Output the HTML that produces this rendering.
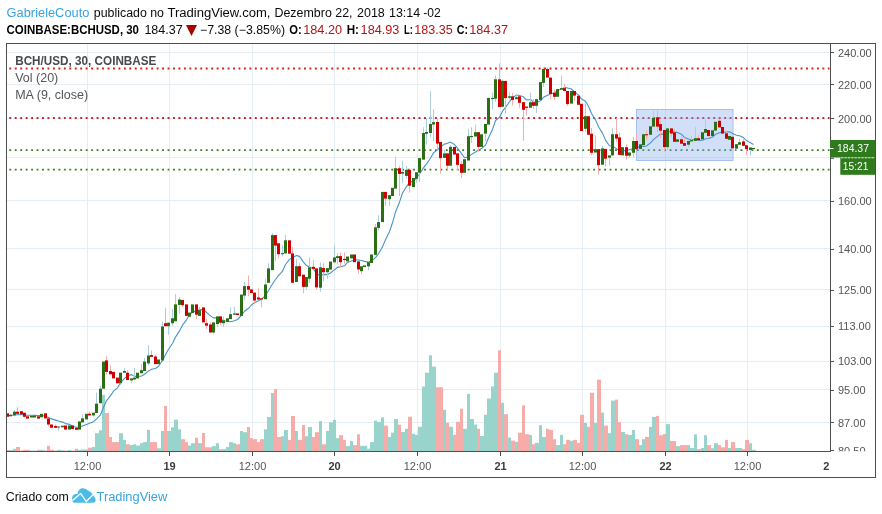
<!DOCTYPE html><html><head><meta charset="utf-8"><title>BCH/USD</title><style>html,body{margin:0;padding:0;background:#fff}svg{display:block;will-change:transform}text{font-family:"Liberation Sans",sans-serif}</style></head><body>
<svg width="882" height="514" viewBox="0 0 882 514">
<rect width="882" height="514" fill="#fff"/>
<defs><clipPath id="plot"><rect x="6.5" y="43.5" width="824" height="408"/></clipPath><clipPath id="axr"><rect x="831" y="44" width="44" height="407.3"/></clipPath><clipPath id="axb"><rect x="6.5" y="452" width="823.6" height="25"/></clipPath></defs>
<g stroke="#e6eef5" stroke-width="1" shape-rendering="crispEdges">
<line x1="7" x2="830" y1="52.5" y2="52.5"/>
<line x1="7" x2="830" y1="84.5" y2="84.5"/>
<line x1="7" x2="830" y1="118.5" y2="118.5"/>
<line x1="7" x2="830" y1="157.5" y2="157.5"/>
<line x1="7" x2="830" y1="200.5" y2="200.5"/>
<line x1="7" x2="830" y1="248.5" y2="248.5"/>
<line x1="7" x2="830" y1="289.5" y2="289.5"/>
<line x1="7" x2="830" y1="326.5" y2="326.5"/>
<line x1="7" x2="830" y1="361.5" y2="361.5"/>
<line x1="7" x2="830" y1="389.5" y2="389.5"/>
<line x1="7" x2="830" y1="422.5" y2="422.5"/>
<line x1="87.5" x2="87.5" y1="44" y2="451"/>
<line x1="169.5" x2="169.5" y1="44" y2="451"/>
<line x1="252.5" x2="252.5" y1="44" y2="451"/>
<line x1="334.5" x2="334.5" y1="44" y2="451"/>
<line x1="417.5" x2="417.5" y1="44" y2="451"/>
<line x1="500.5" x2="500.5" y1="44" y2="451"/>
<line x1="582.5" x2="582.5" y1="44" y2="451"/>
<line x1="665.5" x2="665.5" y1="44" y2="451"/>
<line x1="747.5" x2="747.5" y1="44" y2="451"/>
</g>
<g clip-path="url(#plot)">
<rect x="6" y="450.0" width="3" height="1.0" fill="#f5a5a1" fill-opacity="0.92"/>
<rect x="9" y="450.0" width="4" height="1.0" fill="#8fd0c7" fill-opacity="0.92"/>
<rect x="13" y="448.8" width="3" height="2.2" fill="#8fd0c7" fill-opacity="0.92"/>
<rect x="16" y="447.0" width="4" height="4.0" fill="#f5a5a1" fill-opacity="0.92"/>
<rect x="20" y="450.5" width="3" height="0.5" fill="#f5a5a1" fill-opacity="0.92"/>
<rect x="23" y="449.8" width="3" height="1.2" fill="#f5a5a1" fill-opacity="0.92"/>
<rect x="26" y="449.8" width="4" height="1.2" fill="#f5a5a1" fill-opacity="0.92"/>
<rect x="30" y="450.6" width="3" height="0.4" fill="#8fd0c7" fill-opacity="0.92"/>
<rect x="33" y="450.6" width="4" height="0.4" fill="#8fd0c7" fill-opacity="0.92"/>
<rect x="37" y="449.8" width="3" height="1.2" fill="#f5a5a1" fill-opacity="0.92"/>
<rect x="40" y="449.8" width="4" height="1.2" fill="#8fd0c7" fill-opacity="0.92"/>
<rect x="44" y="450.5" width="3" height="0.5" fill="#f5a5a1" fill-opacity="0.92"/>
<rect x="47" y="445.8" width="3" height="5.2" fill="#f5a5a1" fill-opacity="0.92"/>
<rect x="50" y="449.8" width="4" height="1.2" fill="#f5a5a1" fill-opacity="0.92"/>
<rect x="54" y="450.6" width="3" height="0.4" fill="#f5a5a1" fill-opacity="0.92"/>
<rect x="57" y="449.8" width="4" height="1.2" fill="#8fd0c7" fill-opacity="0.92"/>
<rect x="61" y="450.3" width="3" height="0.7" fill="#8fd0c7" fill-opacity="0.92"/>
<rect x="64" y="450.5" width="4" height="0.5" fill="#f5a5a1" fill-opacity="0.92"/>
<rect x="68" y="450.0" width="3" height="1.0" fill="#8fd0c7" fill-opacity="0.92"/>
<rect x="71" y="450.6" width="4" height="0.4" fill="#f5a5a1" fill-opacity="0.92"/>
<rect x="75" y="448.8" width="3" height="2.2" fill="#f5a5a1" fill-opacity="0.92"/>
<rect x="78" y="450.0" width="3" height="1.0" fill="#8fd0c7" fill-opacity="0.92"/>
<rect x="81" y="449.5" width="4" height="1.5" fill="#8fd0c7" fill-opacity="0.92"/>
<rect x="85" y="449.5" width="3" height="1.5" fill="#8fd0c7" fill-opacity="0.92"/>
<rect x="88" y="447.7" width="4" height="3.3" fill="#f5a5a1" fill-opacity="0.92"/>
<rect x="92" y="447.0" width="3" height="4.0" fill="#8fd0c7" fill-opacity="0.92"/>
<rect x="95" y="433.2" width="4" height="17.8" fill="#8fd0c7" fill-opacity="0.92"/>
<rect x="99" y="430.3" width="3" height="20.7" fill="#8fd0c7" fill-opacity="0.92"/>
<rect x="102" y="394.8" width="3" height="56.2" fill="#8fd0c7" fill-opacity="0.92"/>
<rect x="105" y="413.0" width="4" height="38.0" fill="#f5a5a1" fill-opacity="0.92"/>
<rect x="109" y="437.0" width="3" height="14.0" fill="#f5a5a1" fill-opacity="0.92"/>
<rect x="112" y="442.1" width="4" height="8.9" fill="#f5a5a1" fill-opacity="0.92"/>
<rect x="116" y="442.1" width="3" height="8.9" fill="#f5a5a1" fill-opacity="0.92"/>
<rect x="119" y="433.2" width="4" height="17.8" fill="#8fd0c7" fill-opacity="0.92"/>
<rect x="123" y="439.9" width="3" height="11.1" fill="#8fd0c7" fill-opacity="0.92"/>
<rect x="126" y="444.3" width="4" height="6.7" fill="#f5a5a1" fill-opacity="0.92"/>
<rect x="130" y="445.1" width="3" height="5.9" fill="#8fd0c7" fill-opacity="0.92"/>
<rect x="133" y="444.3" width="3" height="6.7" fill="#8fd0c7" fill-opacity="0.92"/>
<rect x="136" y="445.5" width="4" height="5.5" fill="#8fd0c7" fill-opacity="0.92"/>
<rect x="140" y="443.2" width="3" height="7.8" fill="#8fd0c7" fill-opacity="0.92"/>
<rect x="143" y="442.1" width="4" height="8.9" fill="#8fd0c7" fill-opacity="0.92"/>
<rect x="147" y="429.8" width="3" height="21.2" fill="#8fd0c7" fill-opacity="0.92"/>
<rect x="150" y="442.1" width="4" height="8.9" fill="#f5a5a1" fill-opacity="0.92"/>
<rect x="154" y="442.1" width="3" height="8.9" fill="#f5a5a1" fill-opacity="0.92"/>
<rect x="157" y="448.3" width="4" height="2.7" fill="#8fd0c7" fill-opacity="0.92"/>
<rect x="161" y="431.0" width="3" height="20.0" fill="#8fd0c7" fill-opacity="0.92"/>
<rect x="164" y="405.9" width="3" height="45.1" fill="#f5a5a1" fill-opacity="0.92"/>
<rect x="167" y="431.0" width="4" height="20.0" fill="#8fd0c7" fill-opacity="0.92"/>
<rect x="171" y="427.3" width="3" height="23.7" fill="#8fd0c7" fill-opacity="0.92"/>
<rect x="174" y="419.6" width="4" height="31.4" fill="#8fd0c7" fill-opacity="0.92"/>
<rect x="178" y="429.3" width="3" height="21.7" fill="#8fd0c7" fill-opacity="0.92"/>
<rect x="181" y="439.2" width="4" height="11.8" fill="#f5a5a1" fill-opacity="0.92"/>
<rect x="185" y="442.1" width="3" height="8.9" fill="#f5a5a1" fill-opacity="0.92"/>
<rect x="188" y="445.5" width="3" height="5.5" fill="#8fd0c7" fill-opacity="0.92"/>
<rect x="191" y="443.2" width="4" height="7.8" fill="#8fd0c7" fill-opacity="0.92"/>
<rect x="195" y="437.7" width="3" height="13.3" fill="#f5a5a1" fill-opacity="0.92"/>
<rect x="198" y="443.2" width="4" height="7.8" fill="#8fd0c7" fill-opacity="0.92"/>
<rect x="202" y="433.0" width="3" height="18.0" fill="#f5a5a1" fill-opacity="0.92"/>
<rect x="205" y="447.3" width="4" height="3.7" fill="#f5a5a1" fill-opacity="0.92"/>
<rect x="209" y="447.3" width="3" height="3.7" fill="#f5a5a1" fill-opacity="0.92"/>
<rect x="212" y="446.1" width="4" height="4.9" fill="#8fd0c7" fill-opacity="0.92"/>
<rect x="216" y="443.2" width="3" height="7.8" fill="#8fd0c7" fill-opacity="0.92"/>
<rect x="219" y="449.1" width="3" height="1.9" fill="#f5a5a1" fill-opacity="0.92"/>
<rect x="222" y="449.2" width="4" height="1.8" fill="#8fd0c7" fill-opacity="0.92"/>
<rect x="226" y="447.0" width="3" height="4.0" fill="#8fd0c7" fill-opacity="0.92"/>
<rect x="229" y="442.1" width="4" height="8.9" fill="#8fd0c7" fill-opacity="0.92"/>
<rect x="233" y="443.2" width="3" height="7.8" fill="#8fd0c7" fill-opacity="0.92"/>
<rect x="236" y="444.3" width="4" height="6.7" fill="#f5a5a1" fill-opacity="0.92"/>
<rect x="240" y="431.0" width="3" height="20.0" fill="#8fd0c7" fill-opacity="0.92"/>
<rect x="243" y="432.2" width="4" height="18.8" fill="#8fd0c7" fill-opacity="0.92"/>
<rect x="247" y="427.0" width="3" height="24.0" fill="#f5a5a1" fill-opacity="0.92"/>
<rect x="250" y="438.1" width="3" height="12.9" fill="#f5a5a1" fill-opacity="0.92"/>
<rect x="253" y="439.2" width="4" height="11.8" fill="#f5a5a1" fill-opacity="0.92"/>
<rect x="257" y="442.1" width="3" height="8.9" fill="#f5a5a1" fill-opacity="0.92"/>
<rect x="260" y="439.2" width="4" height="11.8" fill="#f5a5a1" fill-opacity="0.92"/>
<rect x="264" y="429.3" width="3" height="21.7" fill="#8fd0c7" fill-opacity="0.92"/>
<rect x="267" y="417.0" width="4" height="34.0" fill="#8fd0c7" fill-opacity="0.92"/>
<rect x="271" y="393.0" width="3" height="58.0" fill="#8fd0c7" fill-opacity="0.92"/>
<rect x="274" y="389.3" width="3" height="61.7" fill="#f5a5a1" fill-opacity="0.92"/>
<rect x="277" y="437.0" width="4" height="14.0" fill="#f5a5a1" fill-opacity="0.92"/>
<rect x="281" y="436.2" width="3" height="14.8" fill="#8fd0c7" fill-opacity="0.92"/>
<rect x="284" y="430.0" width="4" height="21.0" fill="#8fd0c7" fill-opacity="0.92"/>
<rect x="288" y="439.9" width="3" height="11.1" fill="#f5a5a1" fill-opacity="0.92"/>
<rect x="291" y="416.0" width="4" height="35.0" fill="#f5a5a1" fill-opacity="0.92"/>
<rect x="295" y="431.0" width="3" height="20.0" fill="#8fd0c7" fill-opacity="0.92"/>
<rect x="298" y="439.9" width="4" height="11.1" fill="#f5a5a1" fill-opacity="0.92"/>
<rect x="302" y="425.1" width="3" height="25.9" fill="#f5a5a1" fill-opacity="0.92"/>
<rect x="305" y="436.2" width="3" height="14.8" fill="#8fd0c7" fill-opacity="0.92"/>
<rect x="308" y="427.0" width="4" height="24.0" fill="#8fd0c7" fill-opacity="0.92"/>
<rect x="312" y="437.0" width="3" height="14.0" fill="#f5a5a1" fill-opacity="0.92"/>
<rect x="315" y="432.2" width="4" height="18.8" fill="#f5a5a1" fill-opacity="0.92"/>
<rect x="319" y="421.1" width="3" height="29.9" fill="#8fd0c7" fill-opacity="0.92"/>
<rect x="322" y="444.3" width="4" height="6.7" fill="#f5a5a1" fill-opacity="0.92"/>
<rect x="326" y="431.0" width="3" height="20.0" fill="#8fd0c7" fill-opacity="0.92"/>
<rect x="329" y="422.4" width="4" height="28.6" fill="#8fd0c7" fill-opacity="0.92"/>
<rect x="333" y="420.0" width="3" height="31.0" fill="#8fd0c7" fill-opacity="0.92"/>
<rect x="336" y="438.1" width="3" height="12.9" fill="#8fd0c7" fill-opacity="0.92"/>
<rect x="339" y="435.2" width="4" height="15.8" fill="#f5a5a1" fill-opacity="0.92"/>
<rect x="343" y="439.9" width="3" height="11.1" fill="#f5a5a1" fill-opacity="0.92"/>
<rect x="346" y="446.1" width="4" height="4.9" fill="#8fd0c7" fill-opacity="0.92"/>
<rect x="350" y="441.1" width="3" height="9.9" fill="#8fd0c7" fill-opacity="0.92"/>
<rect x="353" y="445.1" width="4" height="5.9" fill="#f5a5a1" fill-opacity="0.92"/>
<rect x="357" y="434.3" width="3" height="16.7" fill="#f5a5a1" fill-opacity="0.92"/>
<rect x="360" y="445.8" width="3" height="5.2" fill="#8fd0c7" fill-opacity="0.92"/>
<rect x="363" y="445.8" width="4" height="5.2" fill="#8fd0c7" fill-opacity="0.92"/>
<rect x="367" y="448.7" width="3" height="2.3" fill="#8fd0c7" fill-opacity="0.92"/>
<rect x="370" y="442.1" width="4" height="8.9" fill="#8fd0c7" fill-opacity="0.92"/>
<rect x="374" y="420.7" width="3" height="30.3" fill="#8fd0c7" fill-opacity="0.92"/>
<rect x="377" y="421.8" width="4" height="29.2" fill="#8fd0c7" fill-opacity="0.92"/>
<rect x="381" y="417.4" width="3" height="33.6" fill="#8fd0c7" fill-opacity="0.92"/>
<rect x="384" y="425.7" width="4" height="25.3" fill="#f5a5a1" fill-opacity="0.92"/>
<rect x="388" y="437.0" width="3" height="14.0" fill="#8fd0c7" fill-opacity="0.92"/>
<rect x="391" y="432.7" width="3" height="18.3" fill="#8fd0c7" fill-opacity="0.92"/>
<rect x="394" y="419.0" width="4" height="32.0" fill="#8fd0c7" fill-opacity="0.92"/>
<rect x="398" y="424.6" width="3" height="26.4" fill="#f5a5a1" fill-opacity="0.92"/>
<rect x="401" y="432.0" width="4" height="19.0" fill="#8fd0c7" fill-opacity="0.92"/>
<rect x="405" y="428.8" width="3" height="22.2" fill="#8fd0c7" fill-opacity="0.92"/>
<rect x="408" y="416.8" width="4" height="34.2" fill="#f5a5a1" fill-opacity="0.92"/>
<rect x="412" y="433.8" width="3" height="17.2" fill="#8fd0c7" fill-opacity="0.92"/>
<rect x="415" y="434.9" width="3" height="16.1" fill="#8fd0c7" fill-opacity="0.92"/>
<rect x="418" y="426.8" width="4" height="24.2" fill="#8fd0c7" fill-opacity="0.92"/>
<rect x="422" y="386.5" width="3" height="64.5" fill="#8fd0c7" fill-opacity="0.92"/>
<rect x="425" y="372.7" width="4" height="78.3" fill="#8fd0c7" fill-opacity="0.92"/>
<rect x="429" y="355.3" width="3" height="95.7" fill="#8fd0c7" fill-opacity="0.92"/>
<rect x="432" y="366.6" width="4" height="84.4" fill="#8fd0c7" fill-opacity="0.92"/>
<rect x="436" y="387.3" width="3" height="63.7" fill="#f5a5a1" fill-opacity="0.92"/>
<rect x="439" y="387.3" width="4" height="63.7" fill="#f5a5a1" fill-opacity="0.92"/>
<rect x="443" y="409.8" width="3" height="41.2" fill="#8fd0c7" fill-opacity="0.92"/>
<rect x="446" y="422.9" width="3" height="28.1" fill="#f5a5a1" fill-opacity="0.92"/>
<rect x="449" y="426.8" width="4" height="24.2" fill="#8fd0c7" fill-opacity="0.92"/>
<rect x="453" y="434.9" width="3" height="16.1" fill="#f5a5a1" fill-opacity="0.92"/>
<rect x="456" y="421.8" width="4" height="29.2" fill="#f5a5a1" fill-opacity="0.92"/>
<rect x="460" y="408.7" width="3" height="42.3" fill="#f5a5a1" fill-opacity="0.92"/>
<rect x="463" y="428.8" width="4" height="22.2" fill="#8fd0c7" fill-opacity="0.92"/>
<rect x="467" y="393.9" width="3" height="57.1" fill="#8fd0c7" fill-opacity="0.92"/>
<rect x="470" y="419.0" width="4" height="32.0" fill="#8fd0c7" fill-opacity="0.92"/>
<rect x="474" y="424.6" width="3" height="26.4" fill="#8fd0c7" fill-opacity="0.92"/>
<rect x="477" y="428.8" width="3" height="22.2" fill="#f5a5a1" fill-opacity="0.92"/>
<rect x="480" y="436.0" width="4" height="15.0" fill="#8fd0c7" fill-opacity="0.92"/>
<rect x="484" y="414.8" width="3" height="36.2" fill="#8fd0c7" fill-opacity="0.92"/>
<rect x="487" y="398.5" width="4" height="52.5" fill="#8fd0c7" fill-opacity="0.92"/>
<rect x="491" y="386.5" width="3" height="64.5" fill="#8fd0c7" fill-opacity="0.92"/>
<rect x="494" y="372.7" width="4" height="78.3" fill="#8fd0c7" fill-opacity="0.92"/>
<rect x="498" y="350.3" width="3" height="100.7" fill="#f5a5a1" fill-opacity="0.92"/>
<rect x="501" y="402.8" width="3" height="48.2" fill="#8fd0c7" fill-opacity="0.92"/>
<rect x="504" y="414.2" width="4" height="36.8" fill="#f5a5a1" fill-opacity="0.92"/>
<rect x="508" y="437.5" width="3" height="13.5" fill="#8fd0c7" fill-opacity="0.92"/>
<rect x="511" y="440.6" width="4" height="10.4" fill="#f5a5a1" fill-opacity="0.92"/>
<rect x="515" y="441.8" width="3" height="9.2" fill="#8fd0c7" fill-opacity="0.92"/>
<rect x="518" y="432.7" width="4" height="18.3" fill="#f5a5a1" fill-opacity="0.92"/>
<rect x="522" y="405.4" width="3" height="45.6" fill="#f5a5a1" fill-opacity="0.92"/>
<rect x="525" y="434.2" width="4" height="16.8" fill="#f5a5a1" fill-opacity="0.92"/>
<rect x="529" y="434.9" width="3" height="16.1" fill="#8fd0c7" fill-opacity="0.92"/>
<rect x="532" y="444.2" width="3" height="6.8" fill="#f5a5a1" fill-opacity="0.92"/>
<rect x="535" y="442.9" width="4" height="8.1" fill="#8fd0c7" fill-opacity="0.92"/>
<rect x="539" y="425.1" width="3" height="25.9" fill="#8fd0c7" fill-opacity="0.92"/>
<rect x="542" y="437.0" width="4" height="14.0" fill="#8fd0c7" fill-opacity="0.92"/>
<rect x="546" y="428.8" width="3" height="22.2" fill="#f5a5a1" fill-opacity="0.92"/>
<rect x="549" y="429.9" width="4" height="21.1" fill="#f5a5a1" fill-opacity="0.92"/>
<rect x="553" y="439.2" width="3" height="11.8" fill="#f5a5a1" fill-opacity="0.92"/>
<rect x="556" y="445.1" width="4" height="5.9" fill="#8fd0c7" fill-opacity="0.92"/>
<rect x="560" y="434.9" width="3" height="16.1" fill="#8fd0c7" fill-opacity="0.92"/>
<rect x="563" y="444.2" width="3" height="6.8" fill="#f5a5a1" fill-opacity="0.92"/>
<rect x="566" y="439.9" width="4" height="11.1" fill="#f5a5a1" fill-opacity="0.92"/>
<rect x="570" y="440.8" width="3" height="10.2" fill="#8fd0c7" fill-opacity="0.92"/>
<rect x="573" y="439.9" width="4" height="11.1" fill="#f5a5a1" fill-opacity="0.92"/>
<rect x="577" y="442.9" width="3" height="8.1" fill="#f5a5a1" fill-opacity="0.92"/>
<rect x="580" y="414.8" width="4" height="36.2" fill="#f5a5a1" fill-opacity="0.92"/>
<rect x="584" y="422.9" width="3" height="28.1" fill="#8fd0c7" fill-opacity="0.92"/>
<rect x="587" y="426.8" width="3" height="24.2" fill="#f5a5a1" fill-opacity="0.92"/>
<rect x="590" y="392.8" width="4" height="58.2" fill="#f5a5a1" fill-opacity="0.92"/>
<rect x="594" y="422.9" width="3" height="28.1" fill="#8fd0c7" fill-opacity="0.92"/>
<rect x="597" y="379.7" width="4" height="71.3" fill="#f5a5a1" fill-opacity="0.92"/>
<rect x="601" y="412.6" width="3" height="38.4" fill="#8fd0c7" fill-opacity="0.92"/>
<rect x="604" y="425.7" width="4" height="25.3" fill="#f5a5a1" fill-opacity="0.92"/>
<rect x="608" y="433.1" width="3" height="17.9" fill="#8fd0c7" fill-opacity="0.92"/>
<rect x="611" y="400.6" width="4" height="50.4" fill="#8fd0c7" fill-opacity="0.92"/>
<rect x="615" y="399.6" width="3" height="51.4" fill="#f5a5a1" fill-opacity="0.92"/>
<rect x="618" y="422.2" width="3" height="28.8" fill="#f5a5a1" fill-opacity="0.92"/>
<rect x="621" y="432.0" width="4" height="19.0" fill="#8fd0c7" fill-opacity="0.92"/>
<rect x="625" y="434.2" width="3" height="16.8" fill="#f5a5a1" fill-opacity="0.92"/>
<rect x="628" y="434.9" width="4" height="16.1" fill="#8fd0c7" fill-opacity="0.92"/>
<rect x="632" y="429.9" width="3" height="21.1" fill="#8fd0c7" fill-opacity="0.92"/>
<rect x="635" y="439.2" width="4" height="11.8" fill="#f5a5a1" fill-opacity="0.92"/>
<rect x="639" y="445.1" width="3" height="5.9" fill="#8fd0c7" fill-opacity="0.92"/>
<rect x="642" y="439.2" width="3" height="11.8" fill="#8fd0c7" fill-opacity="0.92"/>
<rect x="645" y="437.0" width="4" height="14.0" fill="#f5a5a1" fill-opacity="0.92"/>
<rect x="649" y="426.9" width="3" height="24.1" fill="#8fd0c7" fill-opacity="0.92"/>
<rect x="652" y="416.9" width="4" height="34.1" fill="#8fd0c7" fill-opacity="0.92"/>
<rect x="656" y="415.9" width="3" height="35.1" fill="#f5a5a1" fill-opacity="0.92"/>
<rect x="659" y="435.2" width="4" height="15.8" fill="#f5a5a1" fill-opacity="0.92"/>
<rect x="663" y="434.1" width="3" height="16.9" fill="#f5a5a1" fill-opacity="0.92"/>
<rect x="666" y="424.1" width="4" height="26.9" fill="#8fd0c7" fill-opacity="0.92"/>
<rect x="670" y="441.0" width="3" height="10.0" fill="#f5a5a1" fill-opacity="0.92"/>
<rect x="673" y="441.0" width="3" height="10.0" fill="#f5a5a1" fill-opacity="0.92"/>
<rect x="676" y="446.1" width="4" height="4.9" fill="#8fd0c7" fill-opacity="0.92"/>
<rect x="680" y="445.1" width="3" height="5.9" fill="#f5a5a1" fill-opacity="0.92"/>
<rect x="683" y="445.1" width="4" height="5.9" fill="#f5a5a1" fill-opacity="0.92"/>
<rect x="687" y="445.1" width="3" height="5.9" fill="#8fd0c7" fill-opacity="0.92"/>
<rect x="690" y="448.0" width="4" height="3.0" fill="#8fd0c7" fill-opacity="0.92"/>
<rect x="694" y="434.3" width="3" height="16.7" fill="#8fd0c7" fill-opacity="0.92"/>
<rect x="697" y="449.1" width="4" height="1.9" fill="#f5a5a1" fill-opacity="0.92"/>
<rect x="701" y="448.0" width="3" height="3.0" fill="#8fd0c7" fill-opacity="0.92"/>
<rect x="704" y="435.2" width="3" height="15.8" fill="#8fd0c7" fill-opacity="0.92"/>
<rect x="707" y="445.1" width="4" height="5.9" fill="#f5a5a1" fill-opacity="0.92"/>
<rect x="711" y="448.3" width="3" height="2.7" fill="#8fd0c7" fill-opacity="0.92"/>
<rect x="714" y="443.2" width="4" height="7.8" fill="#8fd0c7" fill-opacity="0.92"/>
<rect x="718" y="445.1" width="3" height="5.9" fill="#f5a5a1" fill-opacity="0.92"/>
<rect x="721" y="447.3" width="4" height="3.7" fill="#f5a5a1" fill-opacity="0.92"/>
<rect x="725" y="439.9" width="3" height="11.1" fill="#f5a5a1" fill-opacity="0.92"/>
<rect x="728" y="448.0" width="3" height="3.0" fill="#8fd0c7" fill-opacity="0.92"/>
<rect x="731" y="442.1" width="4" height="8.9" fill="#f5a5a1" fill-opacity="0.92"/>
<rect x="735" y="448.0" width="3" height="3.0" fill="#8fd0c7" fill-opacity="0.92"/>
<rect x="738" y="448.0" width="4" height="3.0" fill="#8fd0c7" fill-opacity="0.92"/>
<rect x="742" y="449.2" width="3" height="1.8" fill="#f5a5a1" fill-opacity="0.92"/>
<rect x="745" y="439.9" width="4" height="11.1" fill="#f5a5a1" fill-opacity="0.92"/>
<rect x="749" y="443.2" width="3" height="7.8" fill="#8fd0c7" fill-opacity="0.92"/>
<rect x="752" y="449.8" width="4" height="1.2" fill="#8fd0c7" fill-opacity="0.92"/>
<line x1="9.3" x2="829.5" y1="68.5" y2="68.5" stroke="#d62020" stroke-width="1.8" stroke-dasharray="1.9 3.557"/>
<line x1="9.3" x2="829.5" y1="118" y2="118" stroke="#d62020" stroke-width="1.8" stroke-dasharray="1.9 3.557"/>
<line x1="9.3" x2="829.5" y1="150.2" y2="150.2" stroke="#3a8022" stroke-width="1.8" stroke-dasharray="1.9 3.557"/>
<line x1="9.3" x2="829.5" y1="169.6" y2="169.6" stroke="#3a8022" stroke-width="1.8" stroke-dasharray="1.9 3.557"/>
<rect x="636.5" y="109.5" width="96.5" height="51" fill="#7fa6ee" fill-opacity="0.36" stroke="#a6c0ef" stroke-width="1"/>
<polyline fill="none" stroke="#4b93c4" stroke-width="1.1" stroke-linejoin="round" points="7.5,415.5 10.5,415.5 14.5,415.0 17.5,414.7 21.5,414.6 24.5,414.8 27.5,415.3 31.5,415.3 34.5,415.4 38.5,415.6 41.5,415.5 45.5,416.2 48.5,417.4 51.5,418.9 55.5,420.1 58.5,421.0 62.5,422.1 65.5,423.6 69.5,424.4 72.5,426.1 76.5,427.4 79.5,427.0 82.5,426.0 86.5,424.4 89.5,423.2 93.5,421.7 96.5,418.9 100.5,414.8 103.5,407.3 106.5,400.8 110.5,395.6 113.5,391.2 117.5,387.8 120.5,383.0 124.5,378.4 127.5,375.8 131.5,374.6 134.5,376.4 137.5,376.5 141.5,376.0 144.5,374.2 148.5,371.1 151.5,369.3 155.5,368.5 158.5,366.3 162.5,360.5 165.5,354.8 168.5,349.2 172.5,343.5 175.5,337.1 179.5,330.9 182.5,325.2 186.5,319.8 189.5,314.6 192.5,312.1 196.5,310.9 199.5,309.5 203.5,309.9 206.5,312.3 210.5,315.9 213.5,317.9 217.5,317.9 220.5,319.0 223.5,320.8 227.5,321.2 230.5,321.7 234.5,320.7 237.5,319.5 241.5,315.3 244.5,311.2 248.5,308.3 251.5,305.0 254.5,302.8 258.5,300.7 261.5,299.0 265.5,295.8 268.5,290.6 272.5,284.0 275.5,279.5 278.5,275.6 282.5,271.2 285.5,264.5 289.5,259.4 292.5,257.5 296.5,255.5 299.5,256.4 303.5,262.1 306.5,265.6 309.5,267.1 313.5,268.8 316.5,274.1 320.5,275.6 323.5,274.4 327.5,274.6 330.5,273.0 334.5,269.7 337.5,267.4 340.5,266.8 344.5,265.8 347.5,262.4 351.5,261.0 354.5,259.9 358.5,260.0 361.5,260.5 364.5,261.4 368.5,262.1 371.5,261.2 375.5,257.6 378.5,253.8 382.5,246.8 385.5,239.8 389.5,231.5 392.5,222.8 395.5,212.0 399.5,202.2 402.5,193.0 406.5,186.6 409.5,182.6 413.5,181.0 416.5,178.1 419.5,174.0 423.5,167.9 426.5,163.9 430.5,158.3 433.5,152.8 437.5,149.9 440.5,146.8 444.5,144.1 447.5,143.3 450.5,142.1 454.5,144.5 457.5,148.1 461.5,153.6 464.5,157.7 468.5,156.9 471.5,154.4 475.5,152.0 478.5,150.0 481.5,148.6 485.5,145.2 488.5,137.7 492.5,129.4 495.5,120.5 499.5,117.3 502.5,111.2 505.5,107.4 509.5,101.7 512.5,97.9 516.5,95.0 519.5,95.5 523.5,96.8 526.5,100.0 530.5,99.5 533.5,102.2 536.5,102.4 540.5,100.8 543.5,97.3 547.5,95.2 550.5,94.2 554.5,92.7 557.5,90.6 561.5,89.1 564.5,87.4 567.5,88.0 571.5,89.0 574.5,91.9 578.5,94.9 581.5,99.1 585.5,101.2 588.5,106.3 591.5,113.5 595.5,119.9 598.5,126.7 602.5,133.1 605.5,140.1 609.5,145.7 612.5,146.1 616.5,148.6 619.5,150.8 622.5,150.2 626.5,150.9 629.5,149.5 633.5,148.7 636.5,147.6 640.5,146.4 643.5,146.4 646.5,146.0 650.5,142.9 653.5,139.6 657.5,136.4 660.5,133.9 664.5,134.6 667.5,132.3 671.5,131.1 674.5,132.0 677.5,132.4 681.5,134.3 684.5,137.4 688.5,139.0 691.5,140.1 695.5,139.1 698.5,140.4 702.5,140.2 705.5,138.8 708.5,138.5 712.5,137.0 715.5,134.3 719.5,132.8 722.5,132.1 726.5,132.1 729.5,131.7 732.5,133.5 736.5,135.2 739.5,135.8 743.5,137.6 746.5,140.6 750.5,142.8 753.5,144.4"/>
<rect x="6" y="413.3" width="3" height="3.5" fill="#cc0000"/>
<rect x="10" y="413.8" width="1" height="2.5" fill="#aacfdf"/>
<rect x="9" y="414.8" width="3" height="1.5" fill="#2a6f13"/>
<rect x="14" y="410.2" width="1" height="5.1" fill="#aacfdf"/>
<rect x="13" y="411.7" width="3" height="3.6" fill="#2a6f13"/>
<rect x="17" y="407.1" width="1" height="6.7" fill="#f7adad"/>
<rect x="16" y="411.7" width="3" height="2.1" fill="#cc0000"/>
<rect x="20" y="411.2" width="3" height="3.1" fill="#cc0000"/>
<rect x="24" y="412.8" width="1" height="4.7" fill="#f7adad"/>
<rect x="23" y="412.8" width="3" height="4.0" fill="#cc0000"/>
<rect x="26" y="416.3" width="3" height="2.3" fill="#cc0000"/>
<rect x="30" y="415.8" width="3" height="1.7" fill="#2a6f13"/>
<rect x="33" y="415.8" width="3" height="1.7" fill="#2a6f13"/>
<rect x="37" y="416.3" width="3" height="2.3" fill="#cc0000"/>
<rect x="40" y="413.8" width="3" height="3.5" fill="#2a6f13"/>
<rect x="44" y="413.3" width="3" height="5.1" fill="#cc0000"/>
<rect x="48" y="418.4" width="1" height="8.1" fill="#f7adad"/>
<rect x="47" y="418.4" width="3" height="6.1" fill="#cc0000"/>
<rect x="50" y="424.5" width="3" height="3.3" fill="#cc0000"/>
<rect x="55" y="424.5" width="1" height="3.3" fill="#f7adad"/>
<rect x="54" y="426.0" width="3" height="1.8" fill="#cc0000"/>
<rect x="58" y="426.5" width="1" height="4.1" fill="#aacfdf"/>
<rect x="57" y="426.5" width="3" height="1.0" fill="#2a6f13"/>
<rect x="61" y="425.7" width="3" height="1.6" fill="#2a6f13"/>
<rect x="64" y="425.5" width="3" height="4.1" fill="#cc0000"/>
<rect x="68" y="425.5" width="3" height="4.1" fill="#2a6f13"/>
<rect x="71" y="425.5" width="3" height="3.5" fill="#cc0000"/>
<rect x="75" y="428.0" width="3" height="1.8" fill="#cc0000"/>
<rect x="78" y="421.4" width="3" height="8.2" fill="#2a6f13"/>
<rect x="82" y="414.3" width="1" height="8.1" fill="#aacfdf"/>
<rect x="81" y="418.4" width="3" height="4.0" fill="#2a6f13"/>
<rect x="85" y="413.8" width="3" height="5.6" fill="#2a6f13"/>
<rect x="89" y="411.5" width="1" height="3.9" fill="#f7adad"/>
<rect x="88" y="413.7" width="3" height="1.7" fill="#cc0000"/>
<rect x="93" y="412.7" width="1" height="4.1" fill="#aacfdf"/>
<rect x="92" y="412.7" width="3" height="2.7" fill="#2a6f13"/>
<rect x="96" y="392.6" width="1" height="20.4" fill="#aacfdf"/>
<rect x="95" y="403.7" width="3" height="9.3" fill="#2a6f13"/>
<rect x="100" y="385.8" width="1" height="17.4" fill="#aacfdf"/>
<rect x="99" y="388.7" width="3" height="14.5" fill="#2a6f13"/>
<rect x="102" y="361.6" width="3" height="27.1" fill="#2a6f13"/>
<rect x="106" y="356.3" width="1" height="18.0" fill="#f7adad"/>
<rect x="105" y="360.4" width="3" height="11.5" fill="#cc0000"/>
<rect x="110" y="365.3" width="1" height="9.0" fill="#f7adad"/>
<rect x="109" y="371.0" width="3" height="3.3" fill="#cc0000"/>
<rect x="112" y="371.9" width="3" height="6.5" fill="#cc0000"/>
<rect x="116" y="377.6" width="3" height="5.7" fill="#cc0000"/>
<rect x="120" y="372.7" width="1" height="12.3" fill="#aacfdf"/>
<rect x="119" y="372.7" width="3" height="10.6" fill="#2a6f13"/>
<rect x="124" y="368.1" width="1" height="4.6" fill="#aacfdf"/>
<rect x="123" y="371.0" width="3" height="1.7" fill="#2a6f13"/>
<rect x="127" y="370.2" width="1" height="9.8" fill="#f7adad"/>
<rect x="126" y="372.7" width="3" height="7.3" fill="#cc0000"/>
<rect x="131" y="378.4" width="1" height="4.9" fill="#aacfdf"/>
<rect x="130" y="378.4" width="3" height="2.0" fill="#2a6f13"/>
<rect x="134" y="368.1" width="1" height="11.4" fill="#aacfdf"/>
<rect x="133" y="377.6" width="3" height="1.9" fill="#2a6f13"/>
<rect x="136" y="372.7" width="3" height="5.7" fill="#2a6f13"/>
<rect x="141" y="364.2" width="1" height="9.0" fill="#aacfdf"/>
<rect x="140" y="370.2" width="3" height="3.0" fill="#2a6f13"/>
<rect x="144" y="358.0" width="1" height="13.0" fill="#aacfdf"/>
<rect x="143" y="361.6" width="3" height="9.4" fill="#2a6f13"/>
<rect x="148" y="345.2" width="1" height="20.1" fill="#aacfdf"/>
<rect x="147" y="355.5" width="3" height="7.9" fill="#2a6f13"/>
<rect x="151" y="350.6" width="1" height="6.2" fill="#f7adad"/>
<rect x="150" y="355.0" width="3" height="1.8" fill="#cc0000"/>
<rect x="155" y="354.4" width="1" height="9.7" fill="#f7adad"/>
<rect x="154" y="356.5" width="3" height="7.6" fill="#cc0000"/>
<rect x="157" y="359.5" width="3" height="4.6" fill="#2a6f13"/>
<rect x="162" y="321.6" width="1" height="38.9" fill="#aacfdf"/>
<rect x="161" y="326.5" width="3" height="34.0" fill="#2a6f13"/>
<rect x="165" y="308.2" width="1" height="18.0" fill="#f7adad"/>
<rect x="164" y="323.2" width="3" height="3.0" fill="#cc0000"/>
<rect x="168" y="322.7" width="1" height="12.0" fill="#aacfdf"/>
<rect x="167" y="322.7" width="3" height="3.5" fill="#2a6f13"/>
<rect x="172" y="309.3" width="1" height="16.4" fill="#aacfdf"/>
<rect x="171" y="318.3" width="3" height="4.9" fill="#2a6f13"/>
<rect x="175" y="294.1" width="1" height="27.2" fill="#aacfdf"/>
<rect x="174" y="304.4" width="3" height="16.9" fill="#2a6f13"/>
<rect x="179" y="297.0" width="1" height="16.4" fill="#aacfdf"/>
<rect x="178" y="299.5" width="3" height="5.4" fill="#2a6f13"/>
<rect x="182" y="300.0" width="1" height="6.9" fill="#f7adad"/>
<rect x="181" y="300.0" width="3" height="5.2" fill="#cc0000"/>
<rect x="185" y="304.4" width="3" height="11.5" fill="#cc0000"/>
<rect x="188" y="312.6" width="3" height="4.1" fill="#2a6f13"/>
<rect x="191" y="304.4" width="3" height="8.7" fill="#2a6f13"/>
<rect x="196" y="304.4" width="1" height="14.7" fill="#f7adad"/>
<rect x="195" y="304.4" width="3" height="10.3" fill="#cc0000"/>
<rect x="199" y="306.9" width="1" height="9.0" fill="#aacfdf"/>
<rect x="198" y="310.1" width="3" height="5.8" fill="#2a6f13"/>
<rect x="202" y="307.4" width="3" height="15.0" fill="#cc0000"/>
<rect x="206" y="319.1" width="1" height="9.8" fill="#f7adad"/>
<rect x="205" y="323.2" width="3" height="2.5" fill="#cc0000"/>
<rect x="210" y="322.4" width="1" height="10.1" fill="#f7adad"/>
<rect x="209" y="324.5" width="3" height="8.0" fill="#cc0000"/>
<rect x="213" y="322.4" width="1" height="11.8" fill="#aacfdf"/>
<rect x="212" y="322.4" width="3" height="10.1" fill="#2a6f13"/>
<rect x="217" y="316.4" width="1" height="10.1" fill="#aacfdf"/>
<rect x="216" y="316.4" width="3" height="7.6" fill="#2a6f13"/>
<rect x="220" y="316.4" width="1" height="8.4" fill="#f7adad"/>
<rect x="219" y="316.4" width="3" height="6.3" fill="#cc0000"/>
<rect x="223" y="316.7" width="1" height="10.1" fill="#aacfdf"/>
<rect x="222" y="320.3" width="3" height="2.9" fill="#2a6f13"/>
<rect x="226" y="318.3" width="3" height="3.6" fill="#2a6f13"/>
<rect x="230" y="307.4" width="1" height="11.7" fill="#aacfdf"/>
<rect x="229" y="314.2" width="3" height="4.9" fill="#2a6f13"/>
<rect x="234" y="306.9" width="1" height="7.8" fill="#aacfdf"/>
<rect x="233" y="313.4" width="3" height="1.3" fill="#2a6f13"/>
<rect x="236" y="313.4" width="3" height="1.6" fill="#cc0000"/>
<rect x="240" y="294.6" width="3" height="21.3" fill="#2a6f13"/>
<rect x="244" y="282.0" width="1" height="18.3" fill="#aacfdf"/>
<rect x="243" y="286.1" width="3" height="9.5" fill="#2a6f13"/>
<rect x="248" y="275.5" width="1" height="20.8" fill="#f7adad"/>
<rect x="247" y="286.1" width="3" height="3.6" fill="#cc0000"/>
<rect x="250" y="289.4" width="3" height="3.6" fill="#cc0000"/>
<rect x="254" y="292.6" width="1" height="10.6" fill="#f7adad"/>
<rect x="253" y="292.6" width="3" height="7.9" fill="#cc0000"/>
<rect x="258" y="288.5" width="1" height="11.0" fill="#f7adad"/>
<rect x="257" y="297.5" width="3" height="2.0" fill="#cc0000"/>
<rect x="261" y="298.3" width="1" height="9.0" fill="#f7adad"/>
<rect x="260" y="298.3" width="3" height="1.2" fill="#cc0000"/>
<rect x="265" y="278.7" width="1" height="20.5" fill="#aacfdf"/>
<rect x="264" y="284.5" width="3" height="14.7" fill="#2a6f13"/>
<rect x="268" y="263.2" width="1" height="19.6" fill="#aacfdf"/>
<rect x="267" y="268.4" width="3" height="14.4" fill="#2a6f13"/>
<rect x="272" y="233.0" width="1" height="37.1" fill="#aacfdf"/>
<rect x="271" y="235.1" width="3" height="35.0" fill="#2a6f13"/>
<rect x="275" y="235.1" width="1" height="25.4" fill="#f7adad"/>
<rect x="274" y="235.1" width="3" height="10.5" fill="#cc0000"/>
<rect x="278" y="243.3" width="1" height="15.0" fill="#f7adad"/>
<rect x="277" y="243.3" width="3" height="10.9" fill="#cc0000"/>
<rect x="282" y="245.2" width="1" height="11.0" fill="#aacfdf"/>
<rect x="281" y="253.1" width="3" height="1.1" fill="#2a6f13"/>
<rect x="285" y="235.1" width="1" height="18.3" fill="#aacfdf"/>
<rect x="284" y="240.3" width="3" height="13.1" fill="#2a6f13"/>
<rect x="288" y="240.3" width="3" height="13.4" fill="#cc0000"/>
<rect x="292" y="246.9" width="1" height="35.9" fill="#f7adad"/>
<rect x="291" y="253.4" width="3" height="29.4" fill="#cc0000"/>
<rect x="296" y="259.1" width="1" height="22.9" fill="#aacfdf"/>
<rect x="295" y="266.2" width="3" height="15.8" fill="#2a6f13"/>
<rect x="299" y="263.2" width="1" height="13.1" fill="#f7adad"/>
<rect x="298" y="266.2" width="3" height="10.1" fill="#cc0000"/>
<rect x="303" y="274.7" width="1" height="18.7" fill="#f7adad"/>
<rect x="302" y="274.7" width="3" height="12.2" fill="#cc0000"/>
<rect x="306" y="277.1" width="1" height="12.3" fill="#aacfdf"/>
<rect x="305" y="277.1" width="3" height="9.8" fill="#2a6f13"/>
<rect x="309" y="257.5" width="1" height="25.3" fill="#aacfdf"/>
<rect x="308" y="267.3" width="3" height="11.4" fill="#2a6f13"/>
<rect x="313" y="260.0" width="1" height="8.9" fill="#f7adad"/>
<rect x="312" y="266.8" width="3" height="2.1" fill="#cc0000"/>
<rect x="316" y="268.4" width="1" height="21.0" fill="#f7adad"/>
<rect x="315" y="268.4" width="3" height="19.0" fill="#cc0000"/>
<rect x="320" y="262.4" width="1" height="29.4" fill="#aacfdf"/>
<rect x="319" y="267.3" width="3" height="20.4" fill="#2a6f13"/>
<rect x="323" y="263.2" width="1" height="18.0" fill="#f7adad"/>
<rect x="322" y="268.1" width="3" height="4.1" fill="#cc0000"/>
<rect x="327" y="268.1" width="1" height="10.6" fill="#aacfdf"/>
<rect x="326" y="268.1" width="3" height="4.1" fill="#2a6f13"/>
<rect x="329" y="261.6" width="3" height="8.0" fill="#2a6f13"/>
<rect x="334" y="246.0" width="1" height="16.3" fill="#aacfdf"/>
<rect x="333" y="257.4" width="3" height="4.9" fill="#2a6f13"/>
<rect x="337" y="253.2" width="1" height="11.4" fill="#aacfdf"/>
<rect x="336" y="256.2" width="3" height="1.8" fill="#2a6f13"/>
<rect x="340" y="252.4" width="1" height="15.5" fill="#f7adad"/>
<rect x="339" y="256.1" width="3" height="6.1" fill="#cc0000"/>
<rect x="344" y="252.4" width="1" height="11.4" fill="#f7adad"/>
<rect x="343" y="258.9" width="3" height="1.2" fill="#cc0000"/>
<rect x="346" y="256.5" width="3" height="4.9" fill="#2a6f13"/>
<rect x="350" y="254.5" width="3" height="3.9" fill="#2a6f13"/>
<rect x="353" y="254.5" width="3" height="7.7" fill="#cc0000"/>
<rect x="358" y="261.4" width="1" height="12.2" fill="#f7adad"/>
<rect x="357" y="261.4" width="3" height="8.1" fill="#cc0000"/>
<rect x="361" y="266.3" width="1" height="8.1" fill="#aacfdf"/>
<rect x="360" y="266.3" width="3" height="4.9" fill="#2a6f13"/>
<rect x="363" y="265.4" width="3" height="1.7" fill="#2a6f13"/>
<rect x="368" y="262.2" width="1" height="8.1" fill="#aacfdf"/>
<rect x="367" y="262.2" width="3" height="4.1" fill="#2a6f13"/>
<rect x="370" y="254.5" width="3" height="8.5" fill="#2a6f13"/>
<rect x="375" y="223.8" width="1" height="31.0" fill="#aacfdf"/>
<rect x="374" y="227.4" width="3" height="27.4" fill="#2a6f13"/>
<rect x="378" y="215.3" width="1" height="15.0" fill="#aacfdf"/>
<rect x="377" y="222.1" width="3" height="5.8" fill="#2a6f13"/>
<rect x="381" y="191.9" width="3" height="30.2" fill="#2a6f13"/>
<rect x="385" y="191.9" width="1" height="13.9" fill="#f7adad"/>
<rect x="384" y="191.9" width="3" height="6.7" fill="#cc0000"/>
<rect x="389" y="195.2" width="1" height="10.6" fill="#aacfdf"/>
<rect x="388" y="195.2" width="3" height="4.0" fill="#2a6f13"/>
<rect x="391" y="187.8" width="3" height="8.2" fill="#2a6f13"/>
<rect x="395" y="156.8" width="1" height="31.8" fill="#aacfdf"/>
<rect x="394" y="168.2" width="3" height="20.4" fill="#2a6f13"/>
<rect x="399" y="165.8" width="1" height="30.2" fill="#f7adad"/>
<rect x="398" y="168.2" width="3" height="5.7" fill="#cc0000"/>
<rect x="402" y="160.8" width="1" height="22.1" fill="#aacfdf"/>
<rect x="401" y="172.0" width="3" height="1.6" fill="#2a6f13"/>
<rect x="406" y="165.8" width="1" height="13.0" fill="#aacfdf"/>
<rect x="405" y="169.8" width="3" height="6.1" fill="#2a6f13"/>
<rect x="409" y="169.8" width="1" height="22.9" fill="#f7adad"/>
<rect x="408" y="169.8" width="3" height="15.9" fill="#cc0000"/>
<rect x="412" y="178.0" width="3" height="9.0" fill="#2a6f13"/>
<rect x="416" y="172.3" width="1" height="10.6" fill="#aacfdf"/>
<rect x="415" y="172.3" width="3" height="6.5" fill="#2a6f13"/>
<rect x="419" y="158.1" width="1" height="23.9" fill="#aacfdf"/>
<rect x="418" y="158.1" width="3" height="14.5" fill="#2a6f13"/>
<rect x="423" y="127.3" width="1" height="32.3" fill="#aacfdf"/>
<rect x="422" y="133.0" width="3" height="26.6" fill="#2a6f13"/>
<rect x="426" y="118.3" width="1" height="26.2" fill="#aacfdf"/>
<rect x="425" y="132.0" width="3" height="1.8" fill="#2a6f13"/>
<rect x="430" y="91.4" width="1" height="45.7" fill="#aacfdf"/>
<rect x="429" y="124.0" width="3" height="9.0" fill="#2a6f13"/>
<rect x="433" y="109.3" width="1" height="31.9" fill="#aacfdf"/>
<rect x="432" y="122.2" width="3" height="2.3" fill="#2a6f13"/>
<rect x="437" y="119.0" width="1" height="32.0" fill="#f7adad"/>
<rect x="436" y="122.0" width="3" height="21.6" fill="#cc0000"/>
<rect x="440" y="142.0" width="1" height="31.6" fill="#f7adad"/>
<rect x="439" y="142.0" width="3" height="16.1" fill="#cc0000"/>
<rect x="444" y="149.4" width="1" height="8.5" fill="#aacfdf"/>
<rect x="443" y="153.4" width="3" height="4.5" fill="#2a6f13"/>
<rect x="447" y="153.4" width="1" height="16.4" fill="#f7adad"/>
<rect x="446" y="153.4" width="3" height="12.3" fill="#cc0000"/>
<rect x="450" y="145.3" width="1" height="20.4" fill="#aacfdf"/>
<rect x="449" y="146.9" width="3" height="18.8" fill="#2a6f13"/>
<rect x="453" y="146.9" width="3" height="7.6" fill="#cc0000"/>
<rect x="457" y="153.4" width="1" height="17.2" fill="#f7adad"/>
<rect x="456" y="153.4" width="3" height="11.5" fill="#cc0000"/>
<rect x="461" y="160.8" width="1" height="17.2" fill="#f7adad"/>
<rect x="460" y="164.1" width="3" height="8.7" fill="#cc0000"/>
<rect x="463" y="159.2" width="3" height="13.6" fill="#2a6f13"/>
<rect x="468" y="128.9" width="1" height="31.6" fill="#aacfdf"/>
<rect x="467" y="136.2" width="3" height="24.3" fill="#2a6f13"/>
<rect x="471" y="127.3" width="1" height="15.5" fill="#aacfdf"/>
<rect x="470" y="136.0" width="3" height="1.1" fill="#2a6f13"/>
<rect x="475" y="124.8" width="1" height="11.7" fill="#aacfdf"/>
<rect x="474" y="132.2" width="3" height="4.3" fill="#2a6f13"/>
<rect x="478" y="132.2" width="1" height="19.6" fill="#f7adad"/>
<rect x="477" y="132.2" width="3" height="14.7" fill="#cc0000"/>
<rect x="480" y="134.3" width="3" height="12.6" fill="#2a6f13"/>
<rect x="485" y="124.0" width="1" height="17.2" fill="#aacfdf"/>
<rect x="484" y="124.0" width="3" height="9.6" fill="#2a6f13"/>
<rect x="487" y="97.9" width="3" height="26.7" fill="#2a6f13"/>
<rect x="492" y="92.8" width="1" height="16.3" fill="#aacfdf"/>
<rect x="491" y="97.9" width="3" height="1.2" fill="#2a6f13"/>
<rect x="495" y="75.5" width="1" height="26.2" fill="#aacfdf"/>
<rect x="494" y="79.3" width="3" height="19.4" fill="#2a6f13"/>
<rect x="499" y="63.3" width="1" height="43.7" fill="#f7adad"/>
<rect x="498" y="79.3" width="3" height="27.7" fill="#cc0000"/>
<rect x="502" y="79.6" width="1" height="27.2" fill="#aacfdf"/>
<rect x="501" y="80.9" width="3" height="25.9" fill="#2a6f13"/>
<rect x="505" y="80.9" width="1" height="32.8" fill="#f7adad"/>
<rect x="504" y="80.9" width="3" height="17.2" fill="#cc0000"/>
<rect x="509" y="91.9" width="1" height="7.6" fill="#aacfdf"/>
<rect x="508" y="96.3" width="3" height="1.4" fill="#2a6f13"/>
<rect x="512" y="92.7" width="1" height="12.8" fill="#f7adad"/>
<rect x="511" y="96.3" width="3" height="3.7" fill="#cc0000"/>
<rect x="516" y="95.1" width="1" height="4.1" fill="#aacfdf"/>
<rect x="515" y="97.3" width="3" height="1.9" fill="#2a6f13"/>
<rect x="519" y="96.3" width="1" height="11.9" fill="#f7adad"/>
<rect x="518" y="96.3" width="3" height="6.5" fill="#cc0000"/>
<rect x="523" y="102.2" width="1" height="38.7" fill="#f7adad"/>
<rect x="522" y="102.2" width="3" height="7.6" fill="#cc0000"/>
<rect x="526" y="106.6" width="1" height="9.0" fill="#f7adad"/>
<rect x="525" y="106.6" width="3" height="1.3" fill="#cc0000"/>
<rect x="530" y="92.7" width="1" height="15.0" fill="#aacfdf"/>
<rect x="529" y="102.2" width="3" height="5.5" fill="#2a6f13"/>
<rect x="533" y="99.2" width="1" height="9.8" fill="#f7adad"/>
<rect x="532" y="102.2" width="3" height="3.6" fill="#cc0000"/>
<rect x="536" y="99.2" width="1" height="13.9" fill="#aacfdf"/>
<rect x="535" y="99.2" width="3" height="6.6" fill="#2a6f13"/>
<rect x="539" y="82.1" width="3" height="17.9" fill="#2a6f13"/>
<rect x="543" y="67.4" width="1" height="19.6" fill="#aacfdf"/>
<rect x="542" y="69.0" width="3" height="13.9" fill="#2a6f13"/>
<rect x="547" y="67.4" width="1" height="10.2" fill="#f7adad"/>
<rect x="546" y="69.0" width="3" height="8.6" fill="#cc0000"/>
<rect x="550" y="77.6" width="1" height="21.6" fill="#f7adad"/>
<rect x="549" y="77.6" width="3" height="16.4" fill="#cc0000"/>
<rect x="554" y="89.4" width="1" height="10.6" fill="#f7adad"/>
<rect x="553" y="92.7" width="3" height="4.1" fill="#cc0000"/>
<rect x="556" y="89.1" width="3" height="7.7" fill="#2a6f13"/>
<rect x="561" y="75.5" width="1" height="14.2" fill="#aacfdf"/>
<rect x="560" y="88.1" width="3" height="1.6" fill="#2a6f13"/>
<rect x="564" y="83.7" width="1" height="7.3" fill="#f7adad"/>
<rect x="563" y="88.1" width="3" height="2.9" fill="#cc0000"/>
<rect x="567" y="91.0" width="1" height="14.8" fill="#f7adad"/>
<rect x="566" y="91.0" width="3" height="13.1" fill="#cc0000"/>
<rect x="570" y="91.0" width="3" height="12.6" fill="#2a6f13"/>
<rect x="574" y="91.0" width="1" height="9.8" fill="#f7adad"/>
<rect x="573" y="91.0" width="3" height="4.6" fill="#cc0000"/>
<rect x="577" y="95.8" width="3" height="9.0" fill="#cc0000"/>
<rect x="580" y="103.8" width="3" height="27.2" fill="#cc0000"/>
<rect x="585" y="103.4" width="1" height="28.6" fill="#aacfdf"/>
<rect x="584" y="116.2" width="3" height="12.6" fill="#2a6f13"/>
<rect x="587" y="116.2" width="3" height="18.6" fill="#cc0000"/>
<rect x="591" y="128.0" width="1" height="26.9" fill="#f7adad"/>
<rect x="590" y="133.7" width="3" height="19.1" fill="#cc0000"/>
<rect x="595" y="135.3" width="1" height="17.2" fill="#aacfdf"/>
<rect x="594" y="149.2" width="3" height="3.3" fill="#2a6f13"/>
<rect x="598" y="149.2" width="1" height="25.3" fill="#f7adad"/>
<rect x="597" y="149.2" width="3" height="16.0" fill="#cc0000"/>
<rect x="602" y="145.9" width="1" height="18.8" fill="#aacfdf"/>
<rect x="601" y="148.4" width="3" height="16.3" fill="#2a6f13"/>
<rect x="605" y="148.9" width="1" height="17.4" fill="#f7adad"/>
<rect x="604" y="148.9" width="3" height="9.8" fill="#cc0000"/>
<rect x="609" y="155.4" width="1" height="10.1" fill="#aacfdf"/>
<rect x="608" y="155.4" width="3" height="2.3" fill="#2a6f13"/>
<rect x="612" y="127.9" width="1" height="27.5" fill="#aacfdf"/>
<rect x="611" y="134.2" width="3" height="21.2" fill="#2a6f13"/>
<rect x="616" y="118.1" width="1" height="23.7" fill="#f7adad"/>
<rect x="615" y="134.2" width="3" height="4.4" fill="#cc0000"/>
<rect x="619" y="132.8" width="1" height="22.1" fill="#f7adad"/>
<rect x="618" y="137.4" width="3" height="17.5" fill="#cc0000"/>
<rect x="621" y="147.2" width="3" height="8.2" fill="#2a6f13"/>
<rect x="626" y="144.3" width="1" height="15.5" fill="#f7adad"/>
<rect x="625" y="147.2" width="3" height="8.5" fill="#cc0000"/>
<rect x="629" y="152.5" width="1" height="4.9" fill="#aacfdf"/>
<rect x="628" y="152.5" width="3" height="3.2" fill="#2a6f13"/>
<rect x="633" y="136.9" width="1" height="20.5" fill="#aacfdf"/>
<rect x="632" y="141.0" width="3" height="11.8" fill="#2a6f13"/>
<rect x="636" y="133.7" width="1" height="15.5" fill="#f7adad"/>
<rect x="635" y="141.0" width="3" height="8.2" fill="#cc0000"/>
<rect x="639" y="144.3" width="3" height="4.6" fill="#2a6f13"/>
<rect x="642" y="134.2" width="3" height="10.9" fill="#2a6f13"/>
<rect x="646" y="130.4" width="1" height="9.0" fill="#f7adad"/>
<rect x="645" y="134.2" width="3" height="1.1" fill="#cc0000"/>
<rect x="649" y="126.3" width="3" height="8.5" fill="#2a6f13"/>
<rect x="653" y="110.8" width="1" height="15.8" fill="#aacfdf"/>
<rect x="652" y="117.8" width="3" height="8.8" fill="#2a6f13"/>
<rect x="657" y="110.3" width="1" height="21.7" fill="#f7adad"/>
<rect x="656" y="117.3" width="3" height="9.3" fill="#cc0000"/>
<rect x="660" y="120.6" width="1" height="17.2" fill="#f7adad"/>
<rect x="659" y="124.1" width="3" height="6.6" fill="#cc0000"/>
<rect x="664" y="130.0" width="1" height="21.6" fill="#f7adad"/>
<rect x="663" y="130.0" width="3" height="17.1" fill="#cc0000"/>
<rect x="667" y="128.4" width="1" height="21.6" fill="#aacfdf"/>
<rect x="666" y="128.4" width="3" height="18.7" fill="#2a6f13"/>
<rect x="671" y="128.4" width="1" height="8.4" fill="#f7adad"/>
<rect x="670" y="128.4" width="3" height="5.2" fill="#cc0000"/>
<rect x="674" y="128.7" width="1" height="13.1" fill="#f7adad"/>
<rect x="673" y="132.3" width="3" height="9.5" fill="#cc0000"/>
<rect x="676" y="139.3" width="3" height="2.5" fill="#2a6f13"/>
<rect x="681" y="136.8" width="1" height="6.9" fill="#f7adad"/>
<rect x="680" y="139.3" width="3" height="4.4" fill="#cc0000"/>
<rect x="684" y="137.7" width="1" height="8.1" fill="#f7adad"/>
<rect x="683" y="143.1" width="3" height="2.7" fill="#cc0000"/>
<rect x="688" y="140.9" width="1" height="6.6" fill="#aacfdf"/>
<rect x="687" y="140.9" width="3" height="3.8" fill="#2a6f13"/>
<rect x="691" y="136.0" width="1" height="5.4" fill="#aacfdf"/>
<rect x="690" y="140.1" width="3" height="1.3" fill="#2a6f13"/>
<rect x="695" y="127.0" width="1" height="13.9" fill="#aacfdf"/>
<rect x="694" y="138.2" width="3" height="2.7" fill="#2a6f13"/>
<rect x="698" y="135.2" width="1" height="4.9" fill="#f7adad"/>
<rect x="697" y="138.2" width="3" height="1.9" fill="#cc0000"/>
<rect x="701" y="132.3" width="3" height="7.0" fill="#2a6f13"/>
<rect x="705" y="119.7" width="1" height="13.1" fill="#aacfdf"/>
<rect x="704" y="129.0" width="3" height="3.8" fill="#2a6f13"/>
<rect x="708" y="130.0" width="1" height="7.7" fill="#f7adad"/>
<rect x="707" y="130.0" width="3" height="6.0" fill="#cc0000"/>
<rect x="711" y="130.3" width="3" height="5.7" fill="#2a6f13"/>
<rect x="714" y="121.8" width="3" height="8.8" fill="#2a6f13"/>
<rect x="719" y="118.9" width="1" height="8.5" fill="#f7adad"/>
<rect x="718" y="120.8" width="3" height="6.6" fill="#cc0000"/>
<rect x="721" y="127.0" width="3" height="6.6" fill="#cc0000"/>
<rect x="726" y="130.3" width="1" height="8.5" fill="#f7adad"/>
<rect x="725" y="133.3" width="3" height="5.5" fill="#cc0000"/>
<rect x="728" y="136.0" width="3" height="3.8" fill="#2a6f13"/>
<rect x="731" y="136.8" width="3" height="11.5" fill="#cc0000"/>
<rect x="736" y="144.2" width="1" height="6.5" fill="#aacfdf"/>
<rect x="735" y="144.2" width="3" height="4.4" fill="#2a6f13"/>
<rect x="739" y="138.8" width="1" height="5.9" fill="#aacfdf"/>
<rect x="738" y="142.2" width="3" height="2.5" fill="#2a6f13"/>
<rect x="743" y="139.3" width="1" height="6.5" fill="#f7adad"/>
<rect x="742" y="141.4" width="3" height="4.4" fill="#cc0000"/>
<rect x="746" y="145.3" width="1" height="9.5" fill="#f7adad"/>
<rect x="745" y="145.3" width="3" height="3.8" fill="#cc0000"/>
<rect x="750" y="147.5" width="1" height="8.1" fill="#aacfdf"/>
<rect x="749" y="147.5" width="3" height="2.4" fill="#2a6f13"/>
<rect x="752" y="148.0" width="3" height="1.1" fill="#2a6f13"/>
</g>
<g fill="none" stroke="#4f4f4f" stroke-width="1" shape-rendering="crispEdges">
<rect x="6.5" y="43.5" width="869" height="434"/>
<line x1="830.5" x2="830.5" y1="43" y2="452"/>
<line x1="6" x2="831" y1="451.5" y2="451.5"/>
</g>
<g clip-path="url(#axr)" font-size="11px" fill="#555555">
<line x1="831" x2="834" y1="52.5" y2="52.5" stroke="#4f4f4f" stroke-width="1" shape-rendering="crispEdges"/>
<text x="838" y="56.6">240.00</text>
<line x1="831" x2="834" y1="84.5" y2="84.5" stroke="#4f4f4f" stroke-width="1" shape-rendering="crispEdges"/>
<text x="838" y="88.5">220.00</text>
<line x1="831" x2="834" y1="118.5" y2="118.5" stroke="#4f4f4f" stroke-width="1" shape-rendering="crispEdges"/>
<text x="838" y="122.6">200.00</text>
<line x1="831" x2="834" y1="201.5" y2="201.5" stroke="#4f4f4f" stroke-width="1" shape-rendering="crispEdges"/>
<text x="838" y="205.2">160.00</text>
<line x1="831" x2="834" y1="249.5" y2="249.5" stroke="#4f4f4f" stroke-width="1" shape-rendering="crispEdges"/>
<text x="838" y="253.2">140.00</text>
<line x1="831" x2="834" y1="290.5" y2="290.5" stroke="#4f4f4f" stroke-width="1" shape-rendering="crispEdges"/>
<text x="838" y="294.0">125.00</text>
<line x1="831" x2="834" y1="326.5" y2="326.5" stroke="#4f4f4f" stroke-width="1" shape-rendering="crispEdges"/>
<text x="838" y="330.4">113.00</text>
<line x1="831" x2="834" y1="361.5" y2="361.5" stroke="#4f4f4f" stroke-width="1" shape-rendering="crispEdges"/>
<text x="838" y="365.4">103.00</text>
<line x1="831" x2="834" y1="390.5" y2="390.5" stroke="#4f4f4f" stroke-width="1" shape-rendering="crispEdges"/>
<text x="838" y="394.1">95.00</text>
<line x1="831" x2="834" y1="422.5" y2="422.5" stroke="#4f4f4f" stroke-width="1" shape-rendering="crispEdges"/>
<text x="838" y="426.6">87.00</text>
<line x1="831" x2="834" y1="450.5" y2="450.5" stroke="#4f4f4f" stroke-width="1" shape-rendering="crispEdges"/>
<text x="838" y="454.8">80.50</text>
</g>
<rect x="830" y="140" width="45.5" height="17.5" fill="#2e7a1c"/>
<line x1="830" x2="833.5" y1="148.5" y2="148.5" stroke="#fff" stroke-width="1"/>
<text x="837" y="152.3" font-size="11px" fill="#fff" textLength="32" lengthAdjust="spacingAndGlyphs">184.37</text>
<rect x="840.3" y="157.5" width="35.2" height="17.3" fill="#2e7a1c"/>
<line x1="841" x2="875" y1="157.8" y2="157.8" stroke="#d9e6d5" stroke-width="1" stroke-dasharray="2.2 1.2"/>
<text x="842.8" y="170.3" font-size="11px" fill="#fff" textLength="25.5" lengthAdjust="spacingAndGlyphs">15:21</text>
<line x1="831" x2="834" y1="158.3" y2="158.3" stroke="#4f4f4f" stroke-width="1"/>
<line x1="875.5" x2="875.5" y1="43" y2="478" stroke="#4f4f4f" stroke-width="1" shape-rendering="crispEdges"/>
<g clip-path="url(#axb)" font-size="11px" fill="#555555" text-anchor="middle">
<line x1="87.5" x2="87.5" y1="452" y2="456" stroke="#4f4f4f" stroke-width="1" shape-rendering="crispEdges"/>
<text x="87.5" y="470.2">12:00</text>
<line x1="169.5" x2="169.5" y1="452" y2="456" stroke="#4f4f4f" stroke-width="1" shape-rendering="crispEdges"/>
<text x="169.5" y="470.2" font-weight="bold" fill="#3c3c3c">19</text>
<line x1="252.5" x2="252.5" y1="452" y2="456" stroke="#4f4f4f" stroke-width="1" shape-rendering="crispEdges"/>
<text x="252.5" y="470.2">12:00</text>
<line x1="334.5" x2="334.5" y1="452" y2="456" stroke="#4f4f4f" stroke-width="1" shape-rendering="crispEdges"/>
<text x="334.5" y="470.2" font-weight="bold" fill="#3c3c3c">20</text>
<line x1="417.5" x2="417.5" y1="452" y2="456" stroke="#4f4f4f" stroke-width="1" shape-rendering="crispEdges"/>
<text x="417.5" y="470.2">12:00</text>
<line x1="500.5" x2="500.5" y1="452" y2="456" stroke="#4f4f4f" stroke-width="1" shape-rendering="crispEdges"/>
<text x="500.5" y="470.2" font-weight="bold" fill="#3c3c3c">21</text>
<line x1="582.5" x2="582.5" y1="452" y2="456" stroke="#4f4f4f" stroke-width="1" shape-rendering="crispEdges"/>
<text x="582.5" y="470.2">12:00</text>
<line x1="665.5" x2="665.5" y1="452" y2="456" stroke="#4f4f4f" stroke-width="1" shape-rendering="crispEdges"/>
<text x="665.5" y="470.2" font-weight="bold" fill="#3c3c3c">22</text>
<line x1="747.5" x2="747.5" y1="452" y2="456" stroke="#4f4f4f" stroke-width="1" shape-rendering="crispEdges"/>
<text x="747.5" y="470.2">12:00</text>
<text x="826.4" y="470.2" font-weight="bold" fill="#3c3c3c">2</text>
</g>
<text x="15.2" y="65" font-size="12px" font-weight="bold" fill="#4a4a4a" textLength="141.2" lengthAdjust="spacingAndGlyphs">BCH/USD, 30, COINBASE</text>
<text x="15.2" y="81.9" font-size="12px" fill="#555" textLength="43.1" lengthAdjust="spacingAndGlyphs">Vol (20)</text>
<text x="15.2" y="98.9" font-size="12px" fill="#555" textLength="73.0" lengthAdjust="spacingAndGlyphs">MA (9, close)</text>
<text x="6.6" y="17" font-size="12px" fill="#38a3e0" textLength="82.8" lengthAdjust="spacingAndGlyphs">GabrieleCouto</text>
<text x="93.8" y="17" font-size="12px" fill="#0a0a0a" textLength="70.2" lengthAdjust="spacingAndGlyphs">publicado no</text>
<text x="167.4" y="17" font-size="12px" fill="#0a0a0a" textLength="103.1" lengthAdjust="spacingAndGlyphs">TradingView.com,</text>
<text x="274.5" y="17" font-size="12px" fill="#0a0a0a" textLength="78.0" lengthAdjust="spacingAndGlyphs">Dezembro 22,</text>
<text x="357" y="17" font-size="12px" fill="#0a0a0a" textLength="27.8" lengthAdjust="spacingAndGlyphs">2018</text>
<text x="389" y="17" font-size="12px" fill="#0a0a0a" textLength="31.2" lengthAdjust="spacingAndGlyphs">13:14</text>
<text x="423.2" y="17" font-size="12px" fill="#0a0a0a" textLength="17.5" lengthAdjust="spacingAndGlyphs">-02</text>
<text x="6.6" y="33.8" font-size="12px" font-weight="bold" fill="#000" textLength="132.4" lengthAdjust="spacingAndGlyphs">COINBASE:BCHUSD, 30</text>
<text x="144.4" y="33.8" font-size="12px" fill="#0a0a0a" textLength="38.3" lengthAdjust="spacingAndGlyphs">184.37</text>
<path d="M186 24.9 L197 24.9 L191.5 35.9 Z" fill="#aa0000"/>
<text x="200" y="33.8" font-size="12px" fill="#0a0a0a" textLength="85.0" lengthAdjust="spacingAndGlyphs">−7.38 (−3.85%)</text>
<text x="289.3" y="33.8" font-size="12px" font-weight="bold" fill="#000" textLength="12.5" lengthAdjust="spacingAndGlyphs">O:</text>
<text x="303.2" y="33.8" font-size="12px" fill="#b31414" textLength="38.9" lengthAdjust="spacingAndGlyphs">184.20</text>
<text x="346.7" y="33.8" font-size="12px" font-weight="bold" fill="#000" textLength="12.3" lengthAdjust="spacingAndGlyphs">H:</text>
<text x="360.6" y="33.8" font-size="12px" fill="#b31414" textLength="38.8" lengthAdjust="spacingAndGlyphs">184.93</text>
<text x="404" y="33.8" font-size="12px" font-weight="bold" fill="#000" textLength="8.8" lengthAdjust="spacingAndGlyphs">L:</text>
<text x="414.3" y="33.8" font-size="12px" fill="#b31414" textLength="38.3" lengthAdjust="spacingAndGlyphs">183.35</text>
<text x="456.8" y="33.8" font-size="12px" font-weight="bold" fill="#000" textLength="11.3" lengthAdjust="spacingAndGlyphs">C:</text>
<text x="469.3" y="33.8" font-size="12px" fill="#b31414" textLength="38.7" lengthAdjust="spacingAndGlyphs">184.37</text>
<text x="5.8" y="500.5" font-size="12px" fill="#0a0a0a" textLength="63.0" lengthAdjust="spacingAndGlyphs">Criado com</text>
<g>
<path fill="#4bbbe9" d="M74.2 502.8 C72.8 502.5 72 500.6 72 498.4 C72 496 73.5 494.2 75.5 494 C76.2 493.9 76.9 494 77.5 494.3 C77.8 490.8 80 488.3 82.8 488.3 C84.8 488.3 86.6 489.2 87.8 490.6 C89.3 491.2 90.5 492 91.5 493 C93 494.4 94.3 496.3 95 498 C95.6 499 95.8 500 95.6 500.8 C95.3 502 94.4 502.8 93.2 502.8 Z"/>
<polyline fill="none" stroke="#fff" stroke-width="1.3" stroke-linejoin="miter" points="72.4,500.6 80.7,493.4 86.2,501.5 93.6,494.2"/>
</g>
<text x="96.5" y="500.5" font-size="12px" fill="#38a3e0" textLength="70.8" lengthAdjust="spacingAndGlyphs">TradingView</text>
</svg></body></html>
